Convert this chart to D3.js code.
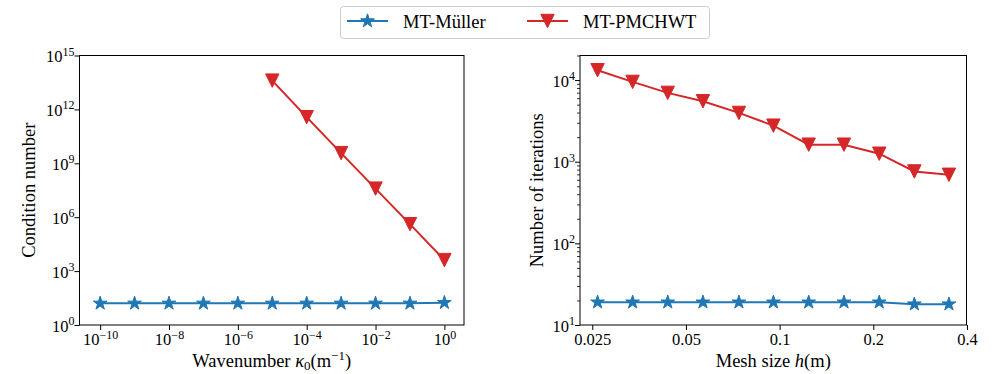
<!DOCTYPE html>
<html><head><meta charset="utf-8">
<script src="https://cdn.jsdelivr.net/npm/d3@7"></script>
<style>
html,body{margin:0;padding:0;background:#fff;}
svg{display:block;}
text{font-family:"Liberation Serif","Times New Roman",serif;fill:#000;}
</style></head>
<body>
<svg id="c" width="996" height="374"></svg>
<script>
// ---- data ----
const seriesNames = ["MT-Müller", "MT-PMCHWT"];
const kMuller = [1e-10,1e-9,1e-8,1e-7,1e-6,1e-5,1e-4,1e-3,1e-2,1e-1,1e0];
const condMuller = [16,16,16,16,16,16,16,16,16,16,17.5];
const kPmchwt = [1e-5,1e-4,1e-3,1e-2,1e-1,1e0];
const condPmchwt = [4e13,3.7e11,3.7e9,3.9e7,4.1e5,4.1e3];
const hVals = [0.026,0.0337,0.0437,0.0567,0.074,0.0955,0.124,0.161,0.209,0.271,0.35];
const iterMuller = [19,19,19,19,19,19,19,19,19,18,18];
const iterPmchwt = [13200,9500,6970,5500,3960,2765,1617,1617,1253,760,692];
const leftXTicks = [1e-10,1e-8,1e-6,1e-4,1e-2,1e0];
const leftYTicks = [1e0,1e3,1e6,1e9,1e12,1e15];
const rightXTicks = [0.025,0.05,0.1,0.2,0.4];
const rightXTickLabels = ["0.025","0.05","0.1","0.2","0.4"];
const rightYTicks = [1e1,1e2,1e3,1e4];

const blue = "#1f77b4", red = "#d62728";
const svg = d3.select("#c");

function starPath(r){
  const ri = r*0.381966; let p = [];
  for(let i=0;i<10;i++){
    const a = -Math.PI/2 + i*Math.PI/5;
    const rr = i%2===0 ? r : ri;
    p.push([rr*Math.cos(a), rr*Math.sin(a)]);
  }
  return "M"+p.map(d=>d[0].toFixed(2)+","+d[1].toFixed(2)).join("L")+"Z";
}
function triPath(r){ return `M0,${r}L${-r},${-r}L${r},${-r}Z`; }
const STAR = starPath(7.2), TRI = triPath(6.7);

function expLabel(sel, e, size, supSize, raise){
  sel.text(null);
  sel.append("tspan").text("10").attr("font-size", size);
  sel.append("tspan").text(e<0 ? "\u2212"+(-e) : String(e)).attr("font-size", supSize).attr("dy", -raise);
}

function panel(opt){
  const g = svg.append("g");
  const x = d3.scaleLog().domain(opt.xDomain).range([opt.x0, opt.x1]);
  const y = d3.scaleLog().domain(opt.yDomain).range([opt.y1, opt.y0]);
  if(opt.yMinor){
    const ma = d3.axisLeft(y).tickValues(opt.yMinor).tickSize(3).tickFormat("");
    const gm = g.append("g").attr("transform",`translate(${opt.x0},0)`).call(ma);
    gm.select(".domain").remove();
    gm.selectAll("line").attr("stroke","#000").attr("stroke-width",0.8);
  }
  const xa = d3.axisBottom(x).tickValues(opt.xTicks).tickSize(5).tickFormat("");
  const gx = g.append("g").attr("transform",`translate(0,${opt.y1})`).call(xa);
  gx.select(".domain").remove();
  gx.selectAll(".tick line").attr("stroke","#000").attr("stroke-width",1);
  gx.selectAll(".tick").append("text").attr("y",20).attr("text-anchor","middle")
    .each(function(d,i){ opt.xLabel(d3.select(this), d, i); });
  const ya = d3.axisLeft(y).tickValues(opt.yTicks).tickSize(5).tickFormat("");
  const gy = g.append("g").attr("transform",`translate(${opt.x0},0)`).call(ya);
  gy.select(".domain").remove();
  gy.selectAll(".tick line").attr("stroke","#000").attr("stroke-width",1);
  gy.selectAll(".tick").append("text").attr("x",-5).attr("y",6).attr("text-anchor","end")
    .each(function(d){ expLabel(d3.select(this), Math.round(Math.log10(d)), 16.5, 12, 6.5); });
  g.append("rect").attr("x",opt.x0).attr("y",opt.y0).attr("width",opt.x1-opt.x0).attr("height",opt.y1-opt.y0)
    .attr("fill","none").attr("stroke","#000").attr("stroke-width",1);
  const line = d3.line().x(d=>x(d[0])).y(d=>y(d[1]));
  opt.series.forEach(s=>{
    const pts = s.xs.map((v,i)=>[v, s.ys[i]]);
    g.append("path").datum(pts).attr("d",line).attr("fill","none").attr("stroke",s.color).attr("stroke-width",2);
    g.selectAll(null).data(pts).enter().append("path")
      .attr("d", s.marker).attr("transform",d=>`translate(${x(d[0])},${y(d[1])})`)
      .attr("fill",s.color).attr("stroke",s.color).attr("stroke-width",1);
  });
  const cx = (opt.x0+opt.x1)/2, cy = (opt.y0+opt.y1)/2;
  const xt = g.append("text").attr("x",cx).attr("y",367).attr("text-anchor","middle").attr("font-size",18.5);
  opt.xTitle(xt);
  g.append("text").attr("transform",`translate(${opt.yTitleX},${cy}) rotate(-90)`)
    .attr("text-anchor","middle").attr("font-size",18.5).text(opt.yTitle);
  return g;
}

// left panel
panel({
  x0:79.5, x1:464, y0:55.5, y1:325,
  xDomain:[Math.pow(10,-10.6), Math.pow(10,0.57)], yDomain:[1e0,1e15],
  xTicks:leftXTicks, yTicks:leftYTicks,
  xLabel:(s,d)=>expLabel(s, Math.round(Math.log10(d)), 16.5, 12, 6.5),
  xTitle:(t)=>{
    t.append("tspan").text("Wavenumber ");
    t.append("tspan").text("\u03BA").attr("font-style","italic");
    t.append("tspan").text("0").attr("font-size",13).attr("dy",3);
    t.append("tspan").text("(m").attr("dy",-3);
    t.append("tspan").text("\u22121").attr("font-size",13).attr("dy",-7);
    t.append("tspan").text(")").attr("dy",7);
  },
  yTitle:"Condition number", yTitleX:35,
  series:[
    {xs:kMuller, ys:condMuller, color:blue, marker:STAR},
    {xs:kPmchwt, ys:condPmchwt, color:red, marker:TRI}
  ]
});

// right panel
const lh = hVals.map(Math.log10);
const span = d3.max(lh)-d3.min(lh);
const yMinor = [];
[10,100,1000,10000].forEach(b=>{ for(let m=2;m<=9;m++){ if(b*m<=20000) yMinor.push(b*m);} });
panel({
  x0:580, x1:966.5, y0:55.5, y1:325,
  xDomain:[Math.pow(10,d3.min(lh)-0.05*span), Math.pow(10,d3.max(lh)+0.05*span)], yDomain:[10,20000],
  xTicks:rightXTicks, yTicks:rightYTicks, yMinor:yMinor,
  xLabel:(s,d,i)=>s.attr("font-size",16.5).text(rightXTickLabels[i]),
  xTitle:(t)=>{
    t.append("tspan").text("Mesh size ");
    t.append("tspan").text("h").attr("font-style","italic");
    t.append("tspan").text("(m)");
  },
  yTitle:"Number of iterations", yTitleX:543,
  series:[
    {xs:hVals, ys:iterMuller, color:blue, marker:STAR},
    {xs:hVals, ys:iterPmchwt, color:red, marker:TRI}
  ]
});

// legend
const lg = svg.append("g");
lg.append("rect").attr("x",340.5).attr("y",6.5).attr("width",369).attr("height",32).attr("rx",3)
  .attr("fill","#fff").attr("stroke","#cccccc").attr("stroke-width",1);
const legItems = [
  {x:347, color:blue, marker:STAR, name:seriesNames[0], tx:403},
  {x:527, color:red, marker:TRI, name:seriesNames[1], tx:583}
];
legItems.forEach(it=>{
  lg.append("line").attr("x1",it.x).attr("x2",it.x+41).attr("y1",21).attr("y2",21).attr("stroke",it.color).attr("stroke-width",2);
  lg.append("path").attr("d",it.marker).attr("transform",`translate(${it.x+20.5},21)`).attr("fill",it.color).attr("stroke",it.color);
  lg.append("text").attr("x",it.tx).attr("y",28).attr("font-size",18.5).text(it.name);
});
</script>
</body></html>
